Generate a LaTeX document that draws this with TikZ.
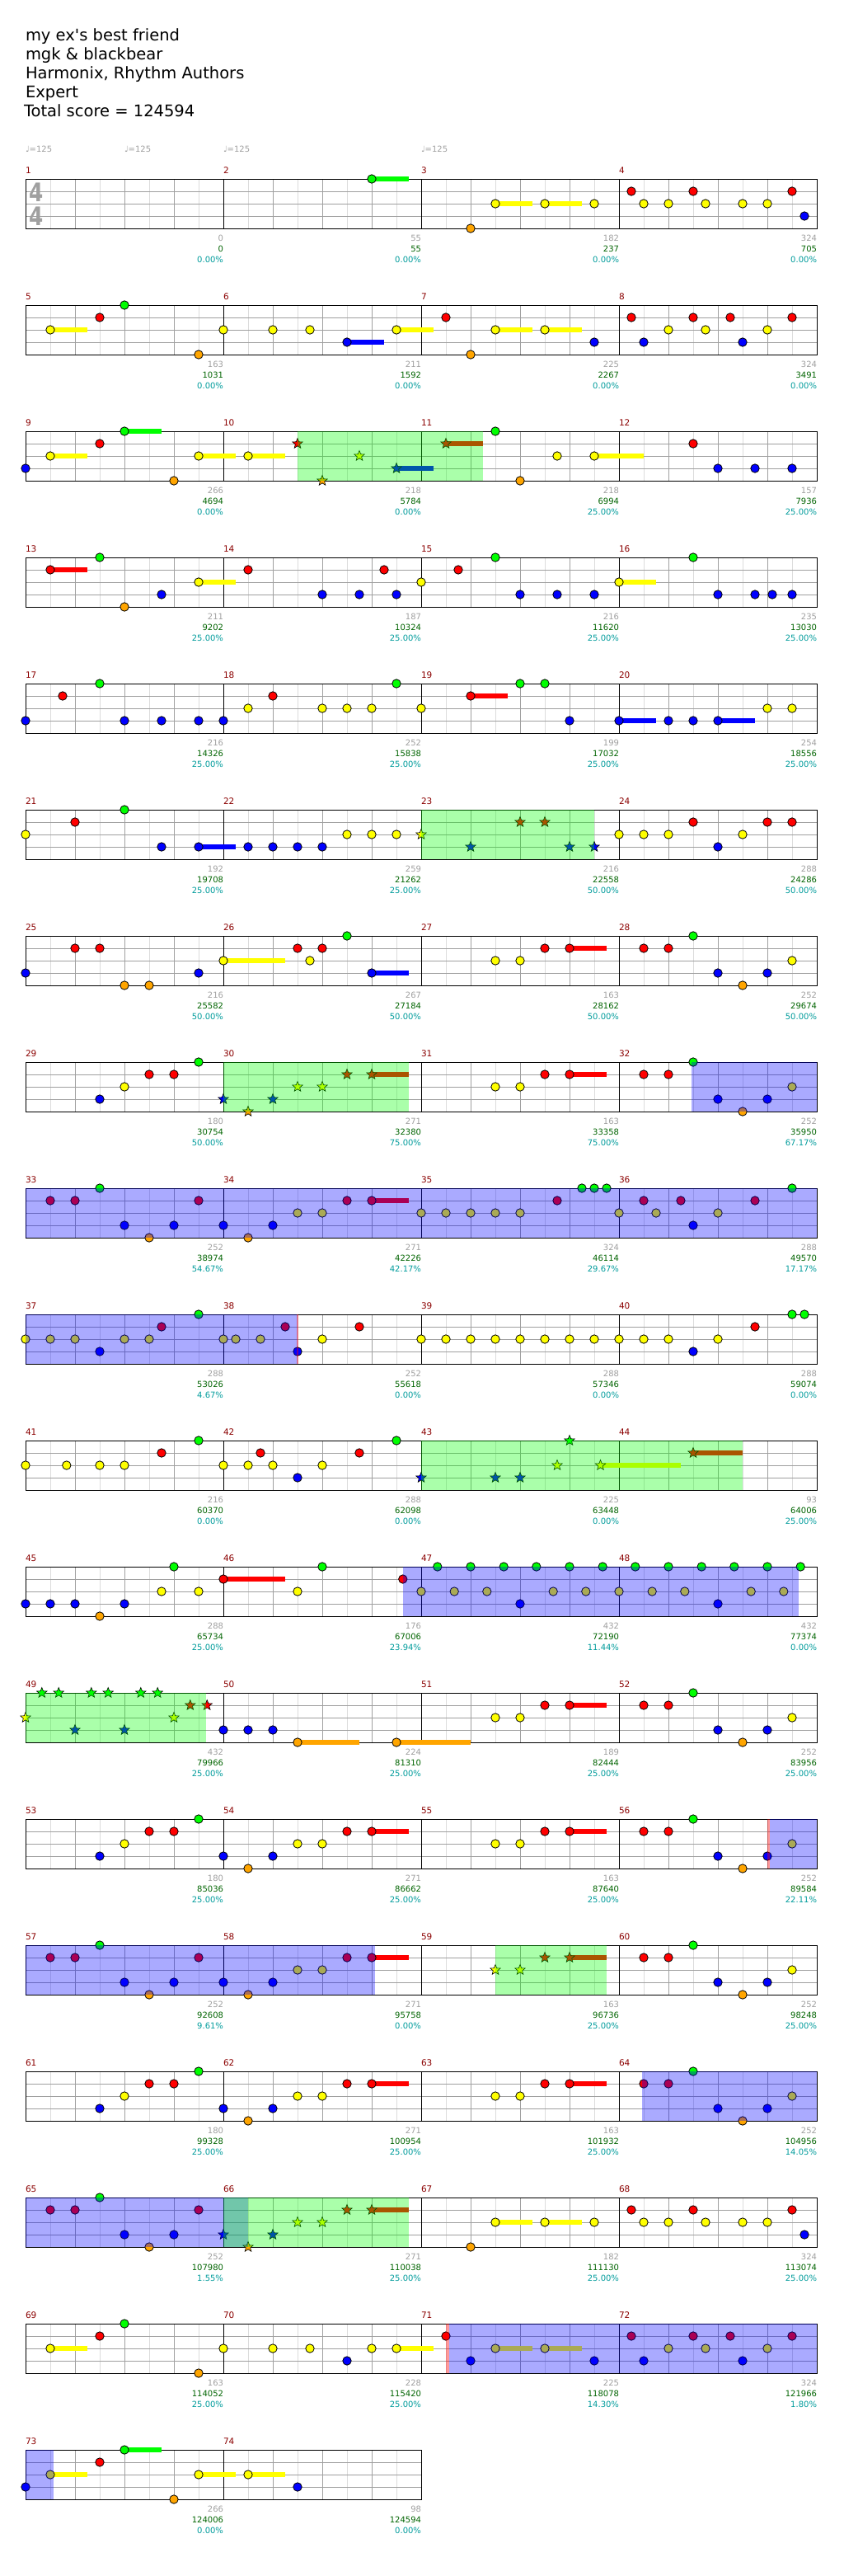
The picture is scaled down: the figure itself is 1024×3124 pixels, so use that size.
\documentclass[tikz,border=0pt]{standalone}
\usepackage{fontspec}
\setmainfont{DejaVu Sans}[Ligatures=TeXOff]
\usetikzlibrary{shapes.geometric}
\definecolor{lane0}{HTML}{00FF00}
\definecolor{lane1}{HTML}{FF0000}
\definecolor{lane2}{HTML}{FFFF00}
\definecolor{lane3}{HTML}{0000FF}
\definecolor{lane4}{HTML}{FFA500}
\definecolor{softgray}{HTML}{A0A0A0}
\definecolor{gridlight}{HTML}{DCDCDC}
\definecolor{barred}{HTML}{8B0000}
\definecolor{scoregreen}{HTML}{006400}
\definecolor{pctteal}{HTML}{009C9C}

\begin{document}
\begin{tikzpicture}[
x=1pt, y=-1pt,
every node/.style={inner sep=0pt, outer sep=0pt},
title/.style={anchor=base west, font=\fontsize{19.5}{23}\selectfont},
tempo/.style={anchor=base west, text=softgray, font=\fontsize{10}{12}\selectfont},
timesig/.style={text=softgray, font=\fontsize{31}{31}\selectfont\bfseries, xscale=0.8},
barnum/.style={anchor=base west, text=barred, font=\fontsize{10.5}{12}\selectfont},
cnt/.style={anchor=base east, text=softgray, font=\fontsize{10}{12}\selectfont},
score/.style={cnt, text=scoregreen},
pct/.style={cnt, text=pctteal},
halfbeat/.style={draw=gridlight, line width=1pt},
beat/.style={draw=softgray, line width=1pt},
bar/.style={draw=black, line width=1pt},
note/.style={draw=black, line width=0.8pt},
tail/.style={line width=6.5pt},
spnote/.style={star, star points=5, star point ratio=2.3, minimum size=13pt, draw=black, line width=0.6pt},
sp/.style={fill=lane0, fill opacity=0.333},
od/.style={fill=lane3, fill opacity=0.333},
odmark/.style={fill=lane1, fill opacity=0.4}
]

\path[use as bounding box, fill=white] (0,0) rectangle (1024,3124);

\node[title] (song) at (31,49) {my ex's best friend};
\node[title] (artist) at (31,72) {mgk \& blackbear};
\node[title] (charter) at (31,95.5) {Harmonix, Rhythm Authors};
\node[title] (level) at (31,118.5) {Expert};
\node[title] (total) at (29,141.5) {Total score = 124594};

\foreach \x [count=\i] in {31,151,271,511}
  \node[tempo] (bpm\i) at (\x,184) {♩=125};

\foreach \r in {0,...,18} {
  \pgfmathtruncatemacro\w{ifthenelse(\r==18,480,960)}
  \begin{scope}[shift={(31,{217+153*\r})}]
    \foreach \x in {30,90,...,\w} \draw[halfbeat] (\x,0) -- (\x,60);
    \foreach \x in {60,120,...,\w} \draw[beat] (\x,0) -- (\x,60);
    \foreach \y in {15,30,45} \draw[beat] (0,\y) -- (\w,\y);
    \foreach \x in {240,480,...,\w} \draw[bar] (\x,0) -- (\x,60);
    \draw[bar] (0,0) rectangle (\w,60);
  \end{scope}
}

\node[timesig] (ts1) at (44.5,233) {4};
\node[timesig] (ts2) at (44.5,262.5) {4};

\foreach \m in {1,...,74} {
  \pgfmathtruncatemacro\rw{div(\m-1,4)}
  \pgfmathtruncatemacro\cl{mod(\m-1,4)}
  \node[barnum] (m\m) at ({31+240*\cl},{210+153*\rw}) {\m};
}

\foreach \g/\s/\p [count=\m from 0] in {
0/0/0.00, 55/55/0.00, 182/237/0.00, 324/705/0.00,
163/1031/0.00, 211/1592/0.00, 225/2267/0.00, 324/3491/0.00,
266/4694/0.00, 218/5784/0.00, 218/6994/25.00, 157/7936/25.00,
211/9202/25.00, 187/10324/25.00, 216/11620/25.00, 235/13030/25.00,
216/14326/25.00, 252/15838/25.00, 199/17032/25.00, 254/18556/25.00,
192/19708/25.00, 259/21262/25.00, 216/22558/50.00, 288/24286/50.00,
216/25582/50.00, 267/27184/50.00, 163/28162/50.00, 252/29674/50.00,
180/30754/50.00, 271/32380/75.00, 163/33358/75.00, 252/35950/67.17,
252/38974/54.67, 271/42226/42.17, 324/46114/29.67, 288/49570/17.17,
288/53026/4.67, 252/55618/0.00, 288/57346/0.00, 288/59074/0.00,
216/60370/0.00, 288/62098/0.00, 225/63448/0.00, 93/64006/25.00,
288/65734/25.00, 176/67006/23.94, 432/72190/11.44, 432/77374/0.00,
432/79966/25.00, 224/81310/25.00, 189/82444/25.00, 252/83956/25.00,
180/85036/25.00, 271/86662/25.00, 163/87640/25.00, 252/89584/22.11,
252/92608/9.61, 271/95758/0.00, 163/96736/25.00, 252/98248/25.00,
180/99328/25.00, 271/100954/25.00, 163/101932/25.00, 252/104956/14.05,
252/107980/1.55, 271/110038/25.00, 182/111130/25.00, 324/113074/25.00,
163/114052/25.00, 228/115420/25.00, 225/118078/14.30, 324/121966/1.80,
266/124006/0.00, 98/124594/0.00} {
  \pgfmathtruncatemacro\rw{div(\m,4)}
  \pgfmathtruncatemacro\cl{mod(\m,4)}
  \node[cnt] (g\m) at ({271+240*\cl},{292+153*\rw}) {\g};
  \node[score] (s\m) at ({271+240*\cl},{305.5+153*\rw}) {\s};
  \node[pct] (p\m) at ({271+240*\cl},{318.5+153*\rw}) {\p\%};
}

% measures 1-4
\begin{scope}[shift={(31,217)}]
  \foreach \a/\e/\l in {7/7.75/0, 9.5/10.25/2, 10.5/11.25/2}
    \draw[tail, lane\l] (60*\a,15*\l) -- (60*\e,15*\l);
  \foreach \b/\l in {7/0, 9/4, 9.5/2, 10.5/2, 11.5/2, 12.25/1, 12.5/2, 13/2, 13.5/1, 13.75/2, 14.5/2, 15/2, 15.5/1, 15.75/3}
    \draw[note, fill=lane\l] (60*\b,15*\l) circle (5.2pt);
\end{scope}

% measures 5-8
\begin{scope}[shift={(31,370)}]
  \foreach \a/\e/\l in {0.5/1.25/2, 6.5/7.25/3, 7.5/8.25/2, 9.5/10.25/2, 10.5/11.25/2}
    \draw[tail, lane\l] (60*\a,15*\l) -- (60*\e,15*\l);
  \foreach \b/\l in {0.5/2, 1.5/1, 2/0, 3.5/4, 4/2, 5/2, 5.75/2, 6.5/3, 7.5/2, 8.5/1, 9/4, 9.5/2, 10.5/2, 11.5/3, 12.25/1, 12.5/3, 13/2, 13.5/1, 13.75/2, 14.25/1, 14.5/3, 15/2, 15.5/1}
    \draw[note, fill=lane\l] (60*\b,15*\l) circle (5.2pt);
\end{scope}

% measures 9-12
\begin{scope}[shift={(31,523)}]
  \foreach \a/\e/\l in {0.5/1.25/2, 2/2.75/0, 3.5/4.25/2, 4.5/5.25/2, 7.5/8.25/3, 8.5/9.25/1, 11.5/12.5/2}
    \draw[tail, lane\l] (60*\a,15*\l) -- (60*\e,15*\l);
  \foreach \b/\l in {0/3, 0.5/2, 1.5/1, 2/0, 3/4, 3.5/2, 4.5/2, 9.5/0, 10/4, 10.75/2, 11.5/2, 13.5/1, 14/3, 14.75/3, 15.5/3}
    \draw[note, fill=lane\l] (60*\b,15*\l) circle (5.2pt);
  \foreach \b/\l [count=\i] in {5.5/1, 6/4, 6.75/2, 7.5/3, 8.5/1}
    \node[spnote, fill=lane\l] (st3-\i) at (60*\b,15*\l) {};
  \fill[sp] (330,0) rectangle (555,60);
\end{scope}

% measures 13-16
\begin{scope}[shift={(31,676)}]
  \foreach \a/\e/\l in {0.5/1.25/1, 3.5/4.25/2, 12/12.75/2}
    \draw[tail, lane\l] (60*\a,15*\l) -- (60*\e,15*\l);
  \foreach \b/\l in {0.5/1, 1.5/0, 2/4, 2.75/3, 3.5/2, 4.5/1, 6/3, 6.75/3, 7.25/1, 7.5/3, 8/2, 8.75/1, 9.5/0, 10/3, 10.75/3, 11.5/3, 12/2, 13.5/0, 14/3, 14.75/3, 15.1/3, 15.5/3}
    \draw[note, fill=lane\l] (60*\b,15*\l) circle (5.2pt);
\end{scope}

% measures 17-20
\begin{scope}[shift={(31,829)}]
  \foreach \a/\e/\l in {9/9.75/1, 12/12.75/3, 14/14.75/3}
    \draw[tail, lane\l] (60*\a,15*\l) -- (60*\e,15*\l);
  \foreach \b/\l in {0/3, 0.75/1, 1.5/0, 2/3, 2.75/3, 3.5/3, 4/3, 4.5/2, 5/1, 6/2, 6.5/2, 7/2, 7.5/0, 8/2, 9/1, 10/0, 10.5/0, 11/3, 12/3, 13/3, 13.5/3, 14/3, 15/2, 15.5/2}
    \draw[note, fill=lane\l] (60*\b,15*\l) circle (5.2pt);
\end{scope}

% measures 21-24
\begin{scope}[shift={(31,982)}]
  \foreach \a/\e/\l in {3.5/4.25/3}
    \draw[tail, lane\l] (60*\a,15*\l) -- (60*\e,15*\l);
  \foreach \b/\l in {0/2, 1/1, 2/0, 2.75/3, 3.5/3, 4.5/3, 5/3, 5.5/3, 6/3, 6.5/2, 7/2, 7.5/2, 12/2, 12.5/2, 13/2, 13.5/1, 14/3, 14.5/2, 15/1, 15.5/1}
    \draw[note, fill=lane\l] (60*\b,15*\l) circle (5.2pt);
  \foreach \b/\l [count=\i] in {8/2, 9/3, 10/1, 10.5/1, 11/3, 11.5/3}
    \node[spnote, fill=lane\l] (st6-\i) at (60*\b,15*\l) {};
  \fill[sp] (480,0) rectangle (690,60);
\end{scope}

% measures 25-28
\begin{scope}[shift={(31,1135)}]
  \foreach \a/\e/\l in {4/5.25/2, 7/7.75/3, 11/11.75/1}
    \draw[tail, lane\l] (60*\a,15*\l) -- (60*\e,15*\l);
  \foreach \b/\l in {0/3, 1/1, 1.5/1, 2/4, 2.5/4, 3.5/3, 4/2, 5.5/1, 5.75/2, 6/1, 6.5/0, 7/3, 9.5/2, 10/2, 10.5/1, 11/1, 12.5/1, 13/1, 13.5/0, 14/3, 14.5/4, 15/3, 15.5/2}
    \draw[note, fill=lane\l] (60*\b,15*\l) circle (5.2pt);
\end{scope}

% measures 29-32
\begin{scope}[shift={(31,1288)}]
  \foreach \a/\e/\l in {7/7.75/1, 11/11.75/1}
    \draw[tail, lane\l] (60*\a,15*\l) -- (60*\e,15*\l);
  \foreach \b/\l in {1.5/3, 2/2, 2.5/1, 3/1, 3.5/0, 9.5/2, 10/2, 10.5/1, 11/1, 12.5/1, 13/1, 13.5/0, 14/3, 14.5/4, 15/3, 15.5/2}
    \draw[note, fill=lane\l] (60*\b,15*\l) circle (5.2pt);
  \foreach \b/\l [count=\i] in {4/3, 4.5/4, 5/3, 5.5/2, 6/2, 6.5/1, 7/1}
    \node[spnote, fill=lane\l] (st8-\i) at (60*\b,15*\l) {};
  \fill[sp] (240,0) rectangle (465,60);
  \fill[od] (808,0) rectangle (960,60);
\end{scope}

% measures 33-36
\begin{scope}[shift={(31,1441)}]
  \foreach \a/\e/\l in {7/7.75/1}
    \draw[tail, lane\l] (60*\a,15*\l) -- (60*\e,15*\l);
  \foreach \b/\l in {0.5/1, 1/1, 1.5/0, 2/3, 2.5/4, 3/3, 3.5/1, 4/3, 4.5/4, 5/3, 5.5/2, 6/2, 6.5/1, 7/1, 8/2, 8.5/2, 9/2, 9.5/2, 10/2, 10.75/1, 11.25/0, 11.5/0, 11.75/0, 12/2, 12.5/1, 12.75/2, 13.25/1, 13.5/3, 14/2, 14.75/1, 15.5/0}
    \draw[note, fill=lane\l] (60*\b,15*\l) circle (5.2pt);
  \fill[od] (0,0) rectangle (960,60);
\end{scope}

% measures 37-40
\begin{scope}[shift={(31,1594)}]
  \foreach \b/\l in {0/2, 0.5/2, 1/2, 1.5/3, 2/2, 2.5/2, 2.75/1, 3.5/0, 4/2, 4.25/2, 4.75/2, 5.25/1, 5.5/3, 6/2, 6.75/1, 8/2, 8.5/2, 9/2, 9.5/2, 10/2, 10.5/2, 11/2, 11.5/2, 12/2, 12.5/2, 13/2, 13.5/3, 14/2, 14.75/1, 15.5/0, 15.75/0}
    \draw[note, fill=lane\l] (60*\b,15*\l) circle (5.2pt);
  \fill[od] (0,0) rectangle (330,60);
  \fill[odmark] (329,0) rectangle (331,60);
\end{scope}

% measures 41-44
\begin{scope}[shift={(31,1747)}]
  \foreach \a/\e/\l in {11.625/13.25/2, 13.5/14.5/1}
    \draw[tail, lane\l] (60*\a,15*\l) -- (60*\e,15*\l);
  \foreach \b/\l in {0/2, 0.83/2, 1.5/2, 2/2, 2.75/1, 3.5/0, 4/2, 4.5/2, 4.75/1, 5/2, 5.5/3, 6/2, 6.75/1, 7.5/0}
    \draw[note, fill=lane\l] (60*\b,15*\l) circle (5.2pt);
  \foreach \b/\l [count=\i] in {8/3, 9.5/3, 10/3, 10.75/2, 11/0, 11.625/2, 13.5/1}
    \node[spnote, fill=lane\l] (st11-\i) at (60*\b,15*\l) {};
  \fill[sp] (480,0) rectangle (870,60);
\end{scope}

% measures 45-48
\begin{scope}[shift={(31,1900)}]
  \foreach \a/\e/\l in {4/5.25/1}
    \draw[tail, lane\l] (60*\a,15*\l) -- (60*\e,15*\l);
  \foreach \b/\l in {0/3, 0.5/3, 1/3, 1.5/4, 2/3, 2.75/2, 3/0, 3.5/2, 4/1, 5.5/2, 6/0, 7.63/1, 8/2, 8.33/0, 8.67/2, 9/0, 9.33/2, 9.67/0, 10/3, 10.33/0, 10.67/2, 11/0, 11.33/2, 11.67/0, 12/2, 12.33/0, 12.67/2, 13/0, 13.33/2, 13.67/0, 14/3, 14.33/0, 14.67/2, 15/0, 15.33/2, 15.67/0}
    \draw[note, fill=lane\l] (60*\b,15*\l) circle (5.2pt);
  \fill[od] (458,0) rectangle (938,60);
\end{scope}

% measures 49-52
\begin{scope}[shift={(31,2053)}]
  \foreach \a/\e/\l in {5.5/6.75/4, 7.5/9/4, 11/11.75/1}
    \draw[tail, lane\l] (60*\a,15*\l) -- (60*\e,15*\l);
  \foreach \b/\l in {4/3, 4.5/3, 5/3, 5.5/4, 7.5/4, 9.5/2, 10/2, 10.5/1, 11/1, 12.5/1, 13/1, 13.5/0, 14/3, 14.5/4, 15/3, 15.5/2}
    \draw[note, fill=lane\l] (60*\b,15*\l) circle (5.2pt);
  \foreach \b/\l [count=\i] in {0/2, 0.33/0, 0.67/0, 1/3, 1.33/0, 1.67/0, 2/3, 2.33/0, 2.67/0, 3/2, 3.33/1, 3.67/1}
    \node[spnote, fill=lane\l] (st13-\i) at (60*\b,15*\l) {};
  \fill[sp] (0,0) rectangle (219,60);
\end{scope}

% measures 53-56
\begin{scope}[shift={(31,2206)}]
  \foreach \a/\e/\l in {7/7.75/1, 11/11.75/1}
    \draw[tail, lane\l] (60*\a,15*\l) -- (60*\e,15*\l);
  \foreach \b/\l in {1.5/3, 2/2, 2.5/1, 3/1, 3.5/0, 4/3, 4.5/4, 5/3, 5.5/2, 6/2, 6.5/1, 7/1, 9.5/2, 10/2, 10.5/1, 11/1, 12.5/1, 13/1, 13.5/0, 14/3, 14.5/4, 15/3, 15.5/2}
    \draw[note, fill=lane\l] (60*\b,15*\l) circle (5.2pt);
  \fill[od] (903,0) rectangle (960,60);
  \fill[odmark] (900,0) rectangle (903,60);
\end{scope}

% measures 57-60
\begin{scope}[shift={(31,2359)}]
  \foreach \a/\e/\l in {7/7.75/1, 11/11.75/1}
    \draw[tail, lane\l] (60*\a,15*\l) -- (60*\e,15*\l);
  \foreach \b/\l in {0.5/1, 1/1, 1.5/0, 2/3, 2.5/4, 3/3, 3.5/1, 4/3, 4.5/4, 5/3, 5.5/2, 6/2, 6.5/1, 7/1, 12.5/1, 13/1, 13.5/0, 14/3, 14.5/4, 15/3, 15.5/2}
    \draw[note, fill=lane\l] (60*\b,15*\l) circle (5.2pt);
  \foreach \b/\l [count=\i] in {9.5/2, 10/2, 10.5/1, 11/1}
    \node[spnote, fill=lane\l] (st15-\i) at (60*\b,15*\l) {};
  \fill[od] (0,0) rectangle (424,60);
  \fill[sp] (570,0) rectangle (705,60);
\end{scope}

% measures 61-64
\begin{scope}[shift={(31,2512)}]
  \foreach \a/\e/\l in {7/7.75/1, 11/11.75/1}
    \draw[tail, lane\l] (60*\a,15*\l) -- (60*\e,15*\l);
  \foreach \b/\l in {1.5/3, 2/2, 2.5/1, 3/1, 3.5/0, 4/3, 4.5/4, 5/3, 5.5/2, 6/2, 6.5/1, 7/1, 9.5/2, 10/2, 10.5/1, 11/1, 12.5/1, 13/1, 13.5/0, 14/3, 14.5/4, 15/3, 15.5/2}
    \draw[note, fill=lane\l] (60*\b,15*\l) circle (5.2pt);
  \fill[od] (748,0) rectangle (960,60);
\end{scope}

% measures 65-68
\begin{scope}[shift={(31,2665)}]
  \foreach \a/\e/\l in {7/7.75/1, 9.5/10.25/2, 10.5/11.25/2}
    \draw[tail, lane\l] (60*\a,15*\l) -- (60*\e,15*\l);
  \foreach \b/\l in {0.5/1, 1/1, 1.5/0, 2/3, 2.5/4, 3/3, 3.5/1, 9/4, 9.5/2, 10.5/2, 11.5/2, 12.25/1, 12.5/2, 13/2, 13.5/1, 13.75/2, 14.5/2, 15/2, 15.5/1, 15.75/3}
    \draw[note, fill=lane\l] (60*\b,15*\l) circle (5.2pt);
  \foreach \b/\l [count=\i] in {4/3, 4.5/4, 5/3, 5.5/2, 6/2, 6.5/1, 7/1}
    \node[spnote, fill=lane\l] (st17-\i) at (60*\b,15*\l) {};
  \fill[od] (0,0) rectangle (270,60);
  \fill[sp] (240,0) rectangle (465,60);
\end{scope}

% measures 69-72
\begin{scope}[shift={(31,2818)}]
  \foreach \a/\e/\l in {0.5/1.25/2, 7.5/8.25/2, 9.5/10.25/2, 10.5/11.25/2}
    \draw[tail, lane\l] (60*\a,15*\l) -- (60*\e,15*\l);
  \foreach \b/\l in {0.5/2, 1.5/1, 2/0, 3.5/4, 4/2, 5/2, 5.75/2, 6.5/3, 7/2, 7.5/2, 8.5/1, 9/3, 9.5/2, 10.5/2, 11.5/3, 12.25/1, 12.5/3, 13/2, 13.5/1, 13.75/2, 14.25/1, 14.5/3, 15/2, 15.5/1}
    \draw[note, fill=lane\l] (60*\b,15*\l) circle (5.2pt);
  \fill[od] (514,0) rectangle (960,60);
  \fill[odmark] (510,0) rectangle (514,60);
\end{scope}

% measures 73-74
\begin{scope}[shift={(31,2971)}]
  \foreach \a/\e/\l in {0.5/1.25/2, 2/2.75/0, 3.5/4.25/2, 4.5/5.25/2}
    \draw[tail, lane\l] (60*\a,15*\l) -- (60*\e,15*\l);
  \foreach \b/\l in {0/3, 0.5/2, 1.5/1, 2/0, 3/4, 3.5/2, 4.5/2, 5.5/3}
    \draw[note, fill=lane\l] (60*\b,15*\l) circle (5.2pt);
  \fill[od] (0,0) rectangle (34,60);
\end{scope}

\end{tikzpicture}
\end{document}
